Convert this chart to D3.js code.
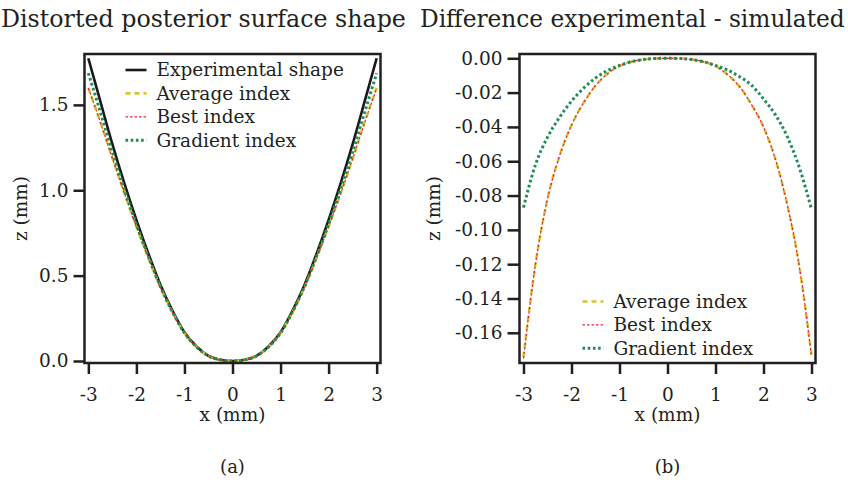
<!DOCTYPE html>
<html>
<head>
<meta charset="utf-8">
<script src="https://cdn.jsdelivr.net/npm/d3@7"></script>
<style>
  html, body { margin: 0; padding: 0; background: #ffffff; }
  svg { display: block; }
  text { font-family: "DejaVu Serif", "Liberation Serif", serif; fill: #231f20; }
</style>
</head>
<body>
<svg id="chart" width="848" height="482"></svg>
<script>
// ---------------- DATA ----------------
const xValues = [-3, -2.75, -2.5, -2.25, -2, -1.75, -1.5, -1.25, -1, -0.75, -0.5, -0.25, 0,
                 0.25, 0.5, 0.75, 1, 1.25, 1.5, 1.75, 2, 2.25, 2.5, 2.75, 3];

// Panel (a): surface shape z (mm)
const experimentalShape = [1.773, 1.52, 1.27, 1.04, 0.826, 0.629, 0.447, 0.295, 0.168, 0.085, 0.030, 0.007, 0,
                           0.007, 0.030, 0.085, 0.168, 0.295, 0.447, 0.629, 0.826, 1.04, 1.27, 1.52, 1.773];
const averageShape = [1.599, 1.40, 1.188, 0.983, 0.787, 0.603, 0.431, 0.286, 0.164, 0.083, 0.029, 0.007, 0,
                      0.007, 0.029, 0.083, 0.164, 0.286, 0.431, 0.603, 0.787, 0.981, 1.184, 1.398, 1.600];
const bestShape = [1.598, 1.399, 1.187, 0.982, 0.786, 0.603, 0.431, 0.286, 0.164, 0.083, 0.029, 0.007, 0,
                   0.007, 0.029, 0.083, 0.164, 0.286, 0.431, 0.603, 0.786, 0.980, 1.183, 1.397, 1.598];
const gradientShape = [1.686, 1.458, 1.224, 1.006, 0.801, 0.612, 0.436, 0.288, 0.164, 0.083, 0.029, 0.007, 0,
                       0.007, 0.029, 0.083, 0.164, 0.288, 0.437, 0.614, 0.803, 1.007, 1.224, 1.456, 1.685];

// Panel (b): difference experimental - simulated (mm)
const averageDiff = [-0.174, -0.120, -0.082, -0.057, -0.039, -0.026, -0.016, -0.009, -0.0045, -0.002, -0.0007, -0.0001, 0,
                     -0.0001, -0.0007, -0.002, -0.0045, -0.0095, -0.0165, -0.027, -0.040, -0.059, -0.086, -0.122, -0.173];
const bestDiff = [-0.175, -0.120, -0.082, -0.057, -0.039, -0.026, -0.016, -0.009, -0.0045, -0.002, -0.0007, -0.0001, 0,
                  -0.0001, -0.0007, -0.002, -0.0045, -0.0095, -0.0165, -0.027, -0.040, -0.059, -0.086, -0.122, -0.174];
const gradientDiff = [-0.087, -0.062, -0.046, -0.0345, -0.025, -0.0175, -0.0115, -0.0072, -0.0042, -0.002, -0.0007, -0.0001, 0,
                      -0.0001, -0.0007, -0.002, -0.0042, -0.0068, -0.0107, -0.0157, -0.0237, -0.033, -0.046, -0.064, -0.088];

const xTicks = [-3, -2, -1, 0, 1, 2, 3];
const yTicksA = [0.0, 0.5, 1.0, 1.5];
const yTicksB = [0.00, -0.02, -0.04, -0.06, -0.08, -0.10, -0.12, -0.14, -0.16];

const titles = ["Distorted posterior surface shape", "Difference experimental - simulated"];
const xLabel = "x (mm)";
const yLabel = "z (mm)";
const panelTags = ["(a)", "(b)"];
const legendA = ["Experimental shape", "Average index", "Best index", "Gradient index"];
const legendB = ["Average index", "Best index", "Gradient index"];

// ---------------- STYLES ----------------
const INK = "#231f20";
const styles = {
  "Experimental shape": { color: "#1a1a1a", width: 2.6, dash: null },
  "Average index":      { color: "#d8c52c", width: 2.6, dash: "5,4" },
  "Best index":         { color: "#e8262c", width: 1.2, dash: "2.5,2" },
  "Gradient index":     { color: "#1f8c55", width: 3.0, dash: "2.6,2.6" }
};

const svg = d3.select("#chart");

function fitText(sel, targetWidth, baseSize) {
  const len = sel.node().getComputedTextLength();
  if (len > 0) sel.attr("font-size", baseSize * targetWidth / len);
}

function panel(opts) {
  const { frame, xDomain, yDomain, yTicks, yFmt, series, legend, legendPos, title, titleX, titleW, tag, tickLen, yLabelX } = opts;
  const g = svg.append("g");
  const x = d3.scaleLinear().domain(xDomain).range([frame.l, frame.r]);
  const y = d3.scaleLinear().domain(yDomain).range([frame.b, frame.t]);

  const clipId = "clip" + tag.replace(/\W/g, "");
  svg.append("defs").append("clipPath").attr("id", clipId)
    .append("rect").attr("x", frame.l).attr("y", frame.t)
    .attr("width", frame.r - frame.l).attr("height", frame.b - frame.t);

  // lines
  const line = d3.line().x((d, i) => x(xValues[i])).y(d => y(d)).curve(d3.curveMonotoneX);
  const lg = g.append("g").attr("clip-path", `url(#${clipId})`);
  series.forEach(s => {
    const st = styles[s.name];
    lg.append("path").attr("d", line(s.values))
      .attr("fill", "none").attr("stroke", st.color).attr("stroke-width", st.width)
      .attr("stroke-dasharray", st.dash).attr("stroke-linejoin", "round");
  });

  // axes
  const xa = g.append("g").attr("transform", `translate(0,${frame.b})`)
    .call(d3.axisBottom(x).tickValues(xTicks).tickSize(tickLen.x).tickPadding(14).tickFormat(d => String(d)));
  const ya = g.append("g").attr("transform", `translate(${frame.l},0)`)
    .call(d3.axisLeft(y).tickValues(yTicks).tickSize(tickLen.y).tickPadding(tickLen.pad).tickFormat(yFmt));
  [xa, ya].forEach(a => {
    a.select(".domain").remove();
    a.selectAll("line").attr("stroke", INK).attr("stroke-width", 2.5);
    a.selectAll("text").attr("font-family", '"DejaVu Serif", serif').attr("font-size", 18.5).attr("fill", INK);
  });

  // frame
  g.append("rect").attr("x", frame.l).attr("y", frame.t)
    .attr("width", frame.r - frame.l).attr("height", frame.b - frame.t)
    .attr("fill", "none").attr("stroke", INK).attr("stroke-width", 2.5);

  // labels
  g.append("text").attr("x", (x(-3) + x(3)) / 2).attr("y", 421).attr("text-anchor", "middle")
    .attr("font-size", 18.5).text(xLabel);
  g.append("text").attr("transform", `translate(${yLabelX},${(frame.t + frame.b) / 2}) rotate(-90)`)
    .attr("text-anchor", "middle").attr("font-size", 18.5).text(yLabel);
  const t = g.append("text").attr("x", titleX).attr("y", 27).attr("font-size", 24).text(title);
  fitText(t, titleW, 24);
  g.append("text").attr("x", (x(-3) + x(3)) / 2).attr("y", 473).attr("text-anchor", "middle")
    .attr("font-size", 18).text(tag);

  // legend
  legend.forEach((name, i) => {
    const st = styles[name];
    const cy = legendPos.y + i * legendPos.dy;
    g.append("line").attr("x1", legendPos.x).attr("x2", legendPos.x + 21).attr("y1", cy).attr("y2", cy)
      .attr("stroke", st.color).attr("stroke-width", st.width).attr("stroke-dasharray", st.dash);
    g.append("text").attr("x", legendPos.x + 31).attr("y", cy).attr("dy", "0.35em")
      .attr("font-size", 18.5).text(name);
  });
}

panel({
  frame: { l: 84.5, r: 380.5, t: 54, b: 363 },
  xDomain: [-3.08, 3.08],
  yDomain: [-0.0117, 1.798],
  yTicks: yTicksA,
  yFmt: d => d.toFixed(1),
  series: [
    { name: "Experimental shape", values: experimentalShape },
    { name: "Average index", values: averageShape },
    { name: "Best index", values: bestShape },
    { name: "Gradient index", values: gradientShape }
  ],
  legend: legendA,
  legendPos: { x: 125.5, y: 70, dy: 23.4 },
  title: titles[0], titleX: 1, titleW: 405,
  tag: panelTags[0],
  tickLen: { x: 11, y: 11, pad: 5 },
  yLabelX: 27
});

panel({
  frame: { l: 519.5, r: 815.5, t: 54, b: 363 },
  xDomain: [-3.083, 3.083],
  yDomain: [-0.1776, 0.0025],
  yTicks: yTicksB,
  yFmt: d => d.toFixed(2),
  series: [
    { name: "Average index", values: averageDiff },
    { name: "Best index", values: bestDiff },
    { name: "Gradient index", values: gradientDiff }
  ],
  legend: legendB,
  legendPos: { x: 582.5, y: 301.5, dy: 23.4 },
  title: titles[1], titleX: 420, titleW: 425,
  tag: panelTags[1],
  tickLen: { x: 11, y: 12, pad: 5 },
  yLabelX: 440
});
</script>
</body>
</html>
